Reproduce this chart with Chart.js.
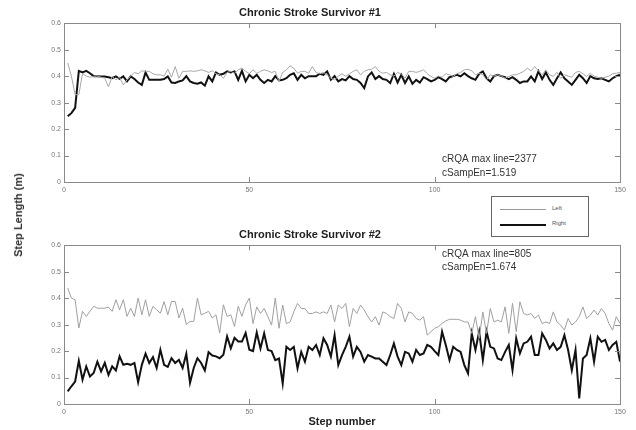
<!DOCTYPE html>
<html>
<head>
<meta charset="utf-8">
<script src="https://cdn.jsdelivr.net/npm/chart.js@4.4.1/dist/chart.umd.min.js"></script>
<style>
  body { margin: 0; background: #fff; font-family: Arial, "Liberation Sans", sans-serif; }
  #wrap { position: relative; width: 636px; height: 430px; overflow: hidden; }
  canvas { position: absolute; left: 0; }
  #ylab { position: absolute; left: 18px; top: 215px; transform: translate(-50%, -50%) rotate(-90deg);
          font-size: 11px; font-weight: bold; color: #333; white-space: nowrap; }
  #legend { position: absolute; left: 491px; top: 196px; width: 96px; height: 39px; border: 1px solid #666;
            background: #fff; font-size: 6px; color: #555; }
  .row { position: absolute; left: 8px; }
  .row span.ln { position: absolute; left: 0; width: 46px; }
  .row span.tx { position: absolute; left: 52px; top: -4px; }
</style>
</head>
<body>
<div id="wrap">
  <canvas id="topChart" width="636" height="200" style="top:0"></canvas>
  <canvas id="botChart" width="636" height="208" style="top:222px"></canvas>
  <div id="ylab">Step Length (m)</div>
  <div id="legend">
    <div class="row" style="top:12px"><span class="ln" style="border-top:1px solid #999"></span><span class="tx">Left</span></div>
    <div class="row" style="top:27px"><span class="ln" style="border-top:2px solid #111"></span><span class="tx">Right</span></div>
  </div>
</div>
<script>
// step numbers 1..150
const steps = Array.from({length: 150}, (_, i) => i + 1);

// survivor #1
const s1Left = [
  0.45,0.40,0.33,0.33,0.41,0.40,0.396,0.399,0.40,0.396,
  0.392,0.36,0.399,0.386,0.396,0.367,0.386,0.40,0.414,0.409,
  0.42,0.418,0.418,0.409,0.405,0.405,0.40,0.426,0.396,0.436,
  0.392,0.418,0.418,0.42,0.418,0.42,0.424,0.42,0.414,0.42,
  0.409,0.405,0.392,0.414,0.418,0.411,0.424,0.43,0.418,0.409,
  0.424,0.411,0.418,0.424,0.42,0.414,0.418,0.38,0.414,0.424,
  0.439,0.43,0.411,0.418,0.418,0.411,0.436,0.414,0.409,0.414,
  0.405,0.392,0.386,0.40,0.409,0.399,0.409,0.418,0.424,0.405,
  0.418,0.424,0.426,0.436,0.418,0.411,0.414,0.405,0.40,0.414,
  0.409,0.392,0.418,0.418,0.414,0.418,0.424,0.409,0.399,0.392,
  0.40,0.396,0.409,0.405,0.399,0.409,0.414,0.424,0.426,0.42,
  0.405,0.411,0.405,0.386,0.405,0.40,0.405,0.40,0.392,0.399,
  0.405,0.405,0.411,0.418,0.43,0.42,0.436,0.42,0.405,0.424,
  0.405,0.399,0.414,0.392,0.405,0.40,0.396,0.414,0.418,0.409,
  0.399,0.411,0.40,0.396,0.392,0.396,0.40,0.409,0.411,0.414
];
const s1Right = [
  0.248,0.26,0.28,0.42,0.414,0.42,0.411,0.40,0.40,0.399,
  0.399,0.396,0.392,0.399,0.39,0.399,0.38,0.399,0.389,0.376,
  0.367,0.414,0.386,0.386,0.386,0.386,0.389,0.399,0.376,0.374,
  0.38,0.384,0.40,0.38,0.374,0.371,0.376,0.364,0.399,0.38,
  0.414,0.405,0.409,0.418,0.414,0.418,0.386,0.42,0.38,0.405,
  0.392,0.405,0.386,0.374,0.386,0.38,0.40,0.384,0.386,0.392,
  0.405,0.411,0.386,0.405,0.392,0.40,0.40,0.40,0.409,0.405,
  0.418,0.386,0.40,0.38,0.389,0.384,0.40,0.389,0.386,0.374,
  0.355,0.399,0.414,0.389,0.40,0.389,0.386,0.374,0.409,0.376,
  0.405,0.374,0.399,0.371,0.386,0.376,0.396,0.389,0.38,0.386,
  0.396,0.389,0.38,0.396,0.40,0.405,0.399,0.411,0.40,0.392,
  0.386,0.409,0.418,0.392,0.38,0.40,0.405,0.40,0.396,0.389,
  0.396,0.386,0.374,0.38,0.38,0.399,0.38,0.418,0.389,0.414,
  0.386,0.367,0.392,0.414,0.392,0.38,0.367,0.386,0.405,0.392,
  0.374,0.40,0.392,0.389,0.392,0.386,0.38,0.392,0.40,0.405
];

// survivor #2
const s2Left = [
  0.438,0.40,0.394,0.287,0.35,0.331,0.35,0.369,0.362,0.362,
  0.362,0.366,0.35,0.394,0.356,0.394,0.331,0.362,0.331,0.40,
  0.337,0.394,0.331,0.369,0.356,0.343,0.387,0.337,0.387,0.387,
  0.325,0.362,0.30,0.312,0.312,0.40,0.337,0.343,0.35,0.325,
  0.337,0.268,0.375,0.331,0.337,0.293,0.369,0.331,0.375,0.40,
  0.304,0.367,0.342,0.361,0.33,0.298,0.40,0.286,0.374,0.304,
  0.31,0.348,0.38,0.361,0.361,0.342,0.342,0.348,0.342,0.348,
  0.342,0.374,0.31,0.374,0.361,0.38,0.292,0.361,0.342,0.374,
  0.355,0.33,0.31,0.33,0.298,0.348,0.342,0.33,0.323,0.38,
  0.361,0.31,0.348,0.342,0.323,0.317,0.33,0.26,0.273,0.286,
  0.292,0.304,0.314,0.32,0.32,0.32,0.317,0.31,0.31,0.267,
  0.33,0.248,0.348,0.267,0.361,0.31,0.317,0.31,0.367,0.267,
  0.38,0.273,0.386,0.342,0.336,0.342,0.323,0.336,0.304,0.31,
  0.304,0.348,0.31,0.298,0.279,0.323,0.298,0.31,0.33,0.367,
  0.323,0.336,0.355,0.336,0.361,0.342,0.304,0.279,0.33,0.304
];
const s2Right = [
  0.048,0.067,0.085,0.163,0.092,0.142,0.104,0.117,0.16,0.123,
  0.155,0.11,0.142,0.127,0.18,0.148,0.152,0.148,0.155,0.082,
  0.148,0.19,0.155,0.177,0.136,0.205,0.148,0.14,0.173,0.155,
  0.167,0.136,0.19,0.08,0.136,0.173,0.155,0.127,0.196,0.183,
  0.18,0.173,0.186,0.255,0.21,0.25,0.236,0.236,0.268,0.205,
  0.2,0.27,0.21,0.267,0.204,0.2,0.166,0.172,0.078,0.216,
  0.204,0.216,0.135,0.197,0.16,0.216,0.204,0.223,0.185,0.248,
  0.223,0.179,0.26,0.147,0.185,0.216,0.254,0.179,0.216,0.197,
  0.16,0.185,0.179,0.172,0.172,0.16,0.147,0.185,0.229,0.179,
  0.147,0.197,0.191,0.16,0.204,0.185,0.191,0.223,0.216,0.2,
  0.185,0.273,0.223,0.166,0.216,0.204,0.197,0.147,0.116,0.267,
  0.204,0.273,0.166,0.273,0.216,0.21,0.172,0.166,0.197,0.223,
  0.128,0.248,0.191,0.229,0.235,0.254,0.185,0.185,0.267,0.242,
  0.21,0.229,0.204,0.216,0.26,0.204,0.128,0.204,0.021,0.172,
  0.185,0.248,0.16,0.254,0.235,0.242,0.204,0.223,0.235,0.16
];

// axis ticks
const xTicks = [0, 50, 100, 150];
const yTicks = [0, 0.1, 0.2, 0.3, 0.4, 0.5, 0.6];

// box round the plot + inward tick marks, like matlab
const frame = {
  id: 'frame',
  afterDraw(chart) {
    const {ctx, chartArea: a, scales: {x, y}} = chart;
    ctx.save();
    ctx.strokeStyle = '#8a8a8a';
    ctx.lineWidth = 1;
    ctx.strokeRect(Math.round(a.left) + 0.5, Math.round(a.top) + 0.5, Math.round(a.width), Math.round(a.height));
    ctx.beginPath();
    xTicks.forEach(v => {
      const px = Math.round(x.getPixelForValue(v)) + 0.5;
      ctx.moveTo(px, a.bottom); ctx.lineTo(px, a.bottom - 5);
      ctx.moveTo(px, a.top); ctx.lineTo(px, a.top + 5);
    });
    yTicks.forEach(v => {
      const py = Math.round(y.getPixelForValue(v)) + 0.5;
      ctx.moveTo(a.left, py); ctx.lineTo(a.left + 5, py);
      ctx.moveTo(a.right, py); ctx.lineTo(a.right - 5, py);
    });
    ctx.stroke();
    // cRQA / cSampEn text
    const n = chart.options.plugins.frame;
    ctx.fillStyle = '#333';
    ctx.font = '10px Arial';
    ctx.textBaseline = 'middle';
    n.lines.forEach((t, i) => {
      ctx.fillText(t, x.getPixelForValue(n.x), y.getPixelForValue(n.y[i]));
    });
    ctx.restore();
  }
};

function makeConfig(title, left, right, notes, leftColor, xTitle) {
  return {
    type: 'line',
    data: {
      datasets: [{
        label: 'Left',
        data: steps.map((s, i) => ({x: s, y: left[i]})),
        borderColor: leftColor,
        borderWidth: 1,
        pointRadius: 0
      }, {
        label: 'Right',
        data: steps.map((s, i) => ({x: s, y: right[i]})),
        borderColor: '#111',
        borderWidth: 2,
        pointRadius: 0
      }]
    },
    options: {
      responsive: false,
      animation: false,
      layout: {padding: {left: 0, right: 16, top: 0, bottom: 0}},
      plugins: {
        legend: {display: false},
        tooltip: {enabled: false},
        title: {
          display: true,
          text: title,
          color: '#222',
          font: {family: 'Arial', size: 11, weight: 'bold'},
          padding: {top: 6, bottom: 4}
        },
        frame: notes
      },
      scales: {
        x: {
          type: 'linear',
          min: 0, max: 150,
          grid: {display: false, drawTicks: false},
          border: {display: false},
          afterBuildTicks: s => { s.ticks = xTicks.map(v => ({value: v})); },
          ticks: {color: '#777', font: {family: 'Arial', size: 7}, padding: 4, maxRotation: 0},
          title: xTitle ? {display: true, text: xTitle, color: '#222',
                           font: {family: 'Arial', size: 11, weight: 'bold'}, padding: {top: 0, bottom: 1}} : {display: false},
          afterFit: s => { s.height = xTitle ? 26 : 18; }
        },
        y: {
          min: 0, max: 0.6,
          grid: {display: false, drawTicks: false},
          border: {display: false},
          afterBuildTicks: s => { s.ticks = yTicks.map(v => ({value: v})); },
          ticks: {color: '#777', font: {family: 'Arial', size: 7}, padding: 3},
          afterFit: s => { s.width = 64; }
        }
      }
    },
    plugins: [frame]
  };
}

const chart1 = new Chart(document.getElementById('topChart'),
  makeConfig('Chronic Stroke Survivor #1', s1Left, s1Right,
    {x: 102, y: [0.087, 0.034], lines: ['cRQA max line=2377', 'cSampEn=1.519']}, '#a8a8a8', null));

const chart2 = new Chart(document.getElementById('botChart'),
  makeConfig('Chronic Stroke Survivor #2', s2Left, s2Right,
    {x: 102, y: [0.566, 0.517], lines: ['cRQA max line=805', 'cSampEn=1.674']}, '#a0a0a0', 'Step number'));
</script>
</body>
</html>
